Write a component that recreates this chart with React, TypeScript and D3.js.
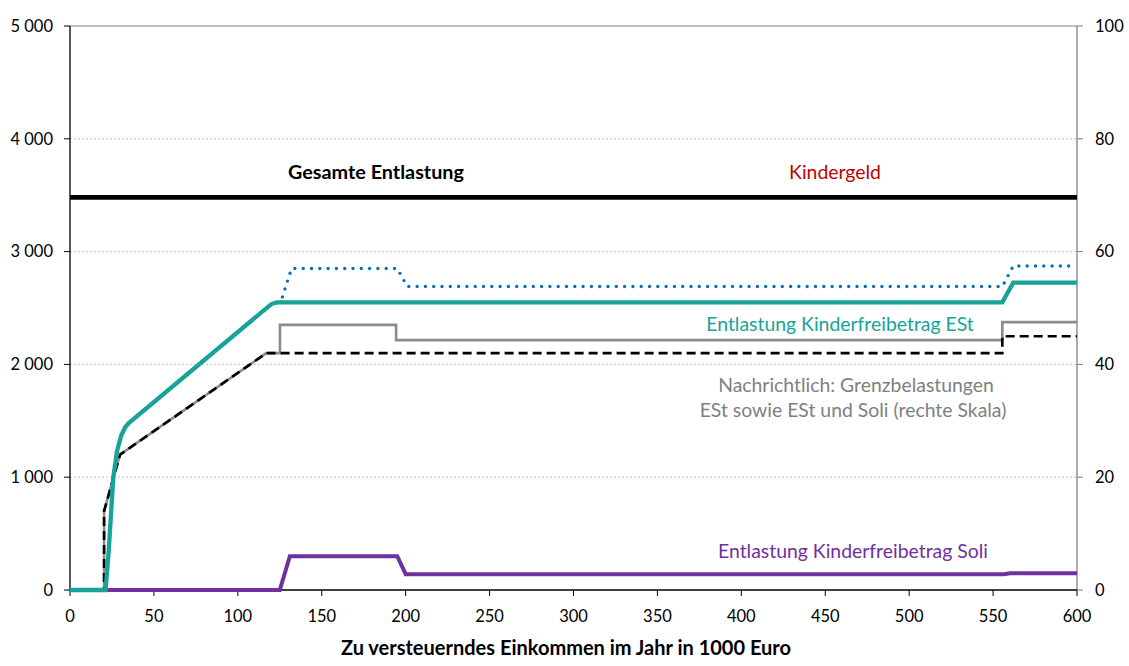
import React from 'react';
import * as d3 from 'd3';

type Pt = [number, number];

// Einkommen in 1000 Euro, Entlastung in Euro (linke Skala)
const kindergeld: Pt[] = [
  [0, 3480],
  [600, 3480]
];

const freibetragESt: Pt[] = [
  [0, 0],
  [21.2, 0],
  [23, 330],
  [25.8, 1000],
  [28, 1230],
  [30.5, 1370],
  [33, 1445],
  [35, 1480],
  [120, 2535],
  [123, 2550],
  [555.5, 2550],
  [562, 2725],
  [600, 2725]
];

const freibetragSoli: Pt[] = [
  [0, 0],
  [125, 0],
  [131, 300],
  [195, 300],
  [200, 140],
  [556.5, 140],
  [560, 148],
  [600, 148]
];

const freibetragGesamt: Pt[] = [
  [0, 0],
  [21.2, 0],
  [23, 330],
  [25.8, 1000],
  [28, 1230],
  [30.5, 1370],
  [33, 1445],
  [35, 1480],
  [120, 2535],
  [125.5, 2550],
  [132, 2850],
  [195, 2850],
  [201, 2690],
  [555.5, 2690],
  [562, 2873],
  [597, 2873]
];

// Grenzbelastungen in Prozent (rechte Skala)
const grenzESt: Pt[] = [
  [0, 0],
  [20.3, 0],
  [20.3, 14],
  [29.8, 24],
  [117, 42],
  [555.5, 42],
  [555.5, 45],
  [600, 45]
];

const grenzEStSoli: Pt[] = [
  [0, 0],
  [20.3, 0],
  [20.3, 14],
  [29.8, 24],
  [117, 42],
  [125.1, 42],
  [125.1, 47],
  [194.3, 47],
  [194.3, 44.3],
  [555.5, 44.3],
  [555.5, 47.5],
  [600, 47.5]
];

const xTicks = d3.range(0, 601, 50);
const yTicksLeft = [0, 1000, 2000, 3000, 4000, 5000];
const yTicksRight = [0, 20, 40, 60, 80, 100];

const WIDTH = 1129;
const HEIGHT = 666;
const margin = { top: 26, right: 52, bottom: 76, left: 70 };
const FONT = 'Lato, "Open Sans", sans-serif';
const LABEL_SIZE = 19.4;

const fmtThousands = (v: number) =>
  v === 0 ? '0' : `${Math.floor(v / 1000)} ${String(v % 1000).padStart(3, '0')}`;

export default function App() {
  const x = d3
    .scaleLinear()
    .domain([0, 600])
    .range([margin.left, WIDTH - margin.right]);
  const yL = d3
    .scaleLinear()
    .domain([0, 5000])
    .range([HEIGHT - margin.bottom, margin.top]);
  const yR = d3
    .scaleLinear()
    .domain([0, 100])
    .range([HEIGHT - margin.bottom, margin.top]);

  const lineL = d3
    .line<Pt>()
    .x(d => x(d[0]))
    .y(d => yL(d[1]));
  const lineR = d3
    .line<Pt>()
    .x(d => x(d[0]))
    .y(d => yR(d[1]));

  const x0 = x(0);
  const x1 = x(600);
  const yBottom = yL(0);
  const yTop = yL(5000);

  return (
    <svg
      width={WIDTH}
      height={HEIGHT}
      style={{ position: 'absolute', left: 0, top: 0, background: '#fff' }}
      fontFamily={FONT}
    >
      {/* Gitterlinien */}
      {yTicksLeft
        .filter(t => t > 0 && t < 5000)
        .map(t => (
          <line
            key={t}
            x1={x0}
            x2={x1}
            y1={yL(t)}
            y2={yL(t)}
            stroke="#c4c4c4"
            strokeWidth={1}
            strokeDasharray="2 2"
          />
        ))}
      <line x1={x0} x2={x1} y1={yTop} y2={yTop} stroke="#7f7f7f" strokeWidth={1} />

      {/* linke Achse */}
      <line x1={x0} x2={x0} y1={yTop} y2={yBottom} stroke="#000" strokeWidth={1.3} />
      {yTicksLeft.map(t => (
        <g key={t} transform={`translate(0,${yL(t)})`}>
          <line x1={x0 - 6} x2={x0} stroke="#000" strokeWidth={1} />
          <text x={53} dy="0.35em" textAnchor="end" fontSize={16.5} fill="#000">
            {fmtThousands(t)}
          </text>
        </g>
      ))}

      {/* rechte Achse */}
      <line x1={x1} x2={x1} y1={yTop} y2={yBottom} stroke="#808080" strokeWidth={1.3} />
      {yTicksRight.map(t => (
        <g key={t} transform={`translate(0,${yR(t)})`}>
          <line x1={x1} x2={x1 + 6} stroke="#808080" strokeWidth={1} />
          <text x={1095} dy="0.35em" textAnchor="start" fontSize={16.5} fill="#000">
            {t}
          </text>
        </g>
      ))}

      {/* x-Achse */}
      <line x1={x0} x2={x1} y1={yBottom} y2={yBottom} stroke="#000" strokeWidth={1.3} />
      {xTicks.map(t => (
        <g key={t} transform={`translate(${x(t)},${yBottom})`}>
          <line y1={0} y2={6} stroke="#000" strokeWidth={1} />
          <text y={32} textAnchor="middle" fontSize={16.5} fill="#000">
            {t}
          </text>
        </g>
      ))}
      <text
        x={566}
        y={655}
        textAnchor="middle"
        fontSize={20}
        fontWeight="bold"
        fill="#000"
      >
        Zu versteuerndes Einkommen im Jahr in 1000 Euro
      </text>

      {/* Grenzbelastungen */}
      <path d={lineR(grenzEStSoli) || ''} fill="none" stroke="#8c8c8c" strokeWidth={2.6} />
      <path
        d={lineR(grenzESt) || ''}
        fill="none"
        stroke="#000"
        strokeWidth={2.6}
        strokeDasharray="9 5"
      />

      {/* Entlastungen */}
      <path
        d={lineL(freibetragGesamt) || ''}
        fill="none"
        stroke="#0070c0"
        strokeWidth={3.4}
        strokeDasharray="0 8.3"
        strokeLinecap="round"
      />
      <path d={lineL(freibetragSoli) || ''} fill="none" stroke="#7030a0" strokeWidth={4} />
      <path d={lineL(freibetragESt) || ''} fill="none" stroke="#17a398" strokeWidth={4.3} />
      <path d={lineL(kindergeld) || ''} fill="none" stroke="#000" strokeWidth={4.8} />

      {/* Beschriftungen */}
      <text x={376} y={179} textAnchor="middle" fontSize={19.8} fontWeight="bold" fill="#000">
        Gesamte Entlastung
      </text>
      <text x={835} y={179} textAnchor="middle" fontSize={LABEL_SIZE} fill="#c00000">
        Kindergeld
      </text>
      <text x={840} y={331} textAnchor="middle" fontSize={LABEL_SIZE} fill="#17a398">
        Entlastung Kinderfreibetrag ESt
      </text>
      <text x={856} y={392} textAnchor="middle" fontSize={LABEL_SIZE} fill="#7f7f7f">
        Nachrichtlich: Grenzbelastungen
      </text>
      <text x={853} y={417} textAnchor="middle" fontSize={LABEL_SIZE} fill="#7f7f7f">
        ESt sowie ESt und Soli (rechte Skala)
      </text>
      <text x={853} y={558} textAnchor="middle" fontSize={LABEL_SIZE} fill="#7030a0">
        Entlastung Kinderfreibetrag Soli
      </text>
    </svg>
  );
}
